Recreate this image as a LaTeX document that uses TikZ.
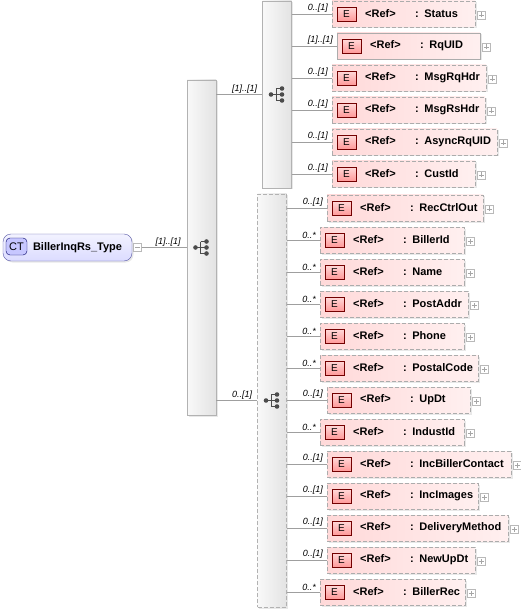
\documentclass[tikz,border=0pt]{standalone}
\usepackage{fontspec}
\setmainfont{Liberation Sans}
\usetikzlibrary{shadows}

\begin{document}
\begin{tikzpicture}[x=1pt, y=-1pt,
    boxshadow/.style={drop shadow={shadow xshift=1.5pt, shadow yshift=-1.5pt, opacity=.18}},
    seqbox/.style={draw=gray!60, left color=gray!5, right color=gray!22, minimum width=29pt, inner sep=0pt, boxshadow},
    elem/.style={draw=gray!65, left color=red!15, right color=red!6, inner xsep=0pt, inner ysep=0pt, minimum height=26pt,
        align=left, anchor=west, font=\fontsize{11}{13}\selectfont\bfseries, boxshadow},
    opt/.style={dash pattern=on 4pt off 2pt},
    req/.style={solid},
    ebadge/.style={draw=red!45!black, top color=red!15, bottom color=red!40, minimum width=19pt, minimum height=14pt,
        inner sep=0pt, font=\fontsize{10}{12}\selectfont},
    plusbox/.style={draw=gray!55, fill=white, minimum size=8pt, inner sep=0pt,
        path picture={\draw[gray!70] ([xshift=-2.5pt]path picture bounding box.center) -- ([xshift=2.5pt]path picture bounding box.center)
                                     ([yshift=-2.5pt]path picture bounding box.center) -- ([yshift=2.5pt]path picture bounding box.center);}},
    minusbox/.style={draw=gray!55, fill=white, minimum size=8pt, inner sep=0pt,
        path picture={\draw[gray!70] ([xshift=-2.5pt]path picture bounding box.center) -- ([xshift=2.5pt]path picture bounding box.center);}},
    mult/.style={font=\fontsize{9}{10}\selectfont\itshape, anchor=south east, inner sep=1pt},
    link/.style={draw=gray!75, line width=.6pt},
    seqicon/.pic={
        \draw[black!70, line width=1pt] (-6,0) -- (-1,0) (-1,-6) -- (-1,6) (-1,-6) -- (5,-6) (-1,0) -- (5,0) (-1,6) -- (5,6);
        \fill[black!70] (-6,0) circle (2.3pt);
        \foreach \k in {-6,0,6} \fill[black!70] (5,\k) circle (2.3pt);
    }]
    \useasboundingbox (0,0) rectangle (520,612);

    % complex type
    \node[draw=blue!30!gray, rounded corners=8pt, top color=blue!5, bottom color=blue!14, text width=129pt, inner xsep=0pt,
          minimum height=27pt, align=left, font=\fontsize{11}{13}\selectfont\bfseries, boxshadow] (root) at (67.5,247.5)
          {\hspace*{30pt}BillerInqRs\_Type};
    \node[draw=blue!40!black, fill=blue!22, rounded corners=4pt, minimum width=21pt, minimum height=17pt, inner sep=0pt,
          font=\fontsize{11}{13}\selectfont] (ct) at (16.5,246.5) {CT};
    \node[minusbox] (minus) at (137.5,247.5) {};

    % sequences
    \node[seqbox, minimum height=335pt] (seq) at (201.5,247.5) {};
    \node[seqbox, minimum height=187pt] (s1) at (277,94.5) {};
    \node[seqbox, opt, minimum height=413pt] (s2) at (272,400.5) {};
    \pic at (seq.center) {seqicon};
    \pic at (s1.center) {seqicon};
    \pic at (s2.center) {seqicon};

    \draw[link] (minus.east) -- (seq.west);
    \node[mult] at ([xshift=-5pt]seq.west) {[1]..[1]};
    \draw[link] (seq.east |- s1.west) -- (s1.west);
    \node[mult] at ([xshift=-4pt]s1.west) {[1]..[1]};
    \draw[link] (seq.east |- s2.west) -- (s2.west);
    \node[mult] at ([xshift=-4pt]s2.west) {0..[1]};

    % elements
    \foreach \n/\nm/\xl/\xr/\yy/\st/\p/\mu in {
        1/Status/332/475/14/opt/s1/{0..[1]},
        2/RqUID/337/480/46/req/s1/{[1]..[1]},
        3/MsgRqHdr/332/486/78/opt/s1/{0..[1]},
        4/MsgRsHdr/332/485/110/opt/s1/{0..[1]},
        5/AsyncRqUID/332/497/142/opt/s1/{0..[1]},
        6/CustId/332/475/174/opt/s1/{0..[1]},
        7/RecCtrlOut/327/483/208/opt/s2/{0..[1]},
        8/BillerId/320/464/240/opt/s2/{0..*},
        9/Name/320/464/272/opt/s2/{0..*},
        10/PostAddr/320/468/304/opt/s2/{0..*},
        11/Phone/320/464/336/opt/s2/{0..*},
        12/PostalCode/320/478/368/opt/s2/{0..*},
        13/UpDt/327/470/400/opt/s2/{0..[1]},
        14/IndustId/320/464/432/opt/s2/{0..*},
        15/IncBillerContact/327/511/464/opt/s2/{0..[1]},
        16/IncImages/327/478/496/opt/s2/{0..[1]},
        17/DeliveryMethod/327/508/528/opt/s2/{0..[1]},
        18/NewUpDt/327/475/560/opt/s2/{0..[1]},
        19/BillerRec/320/465/592/opt/s2/{0..*}} {
        \pgfmathsetmacro\w{\xr-\xl}
        \node[elem, \st, text width=\w pt] (e\n) at (\xl,\yy) {\hspace*{33pt}\makebox[50pt][l]{<Ref>}: \nm};
        \node[ebadge] (b\n) at ([xshift=14.5pt]e\n.west) {E};
        \node[plusbox] (p\n) at ([xshift=6pt, yshift=-1pt]e\n.east) {};
        \draw[link] (\p.east |- e\n.west) -- (e\n.west);
        \node[mult] at ([xshift=-3pt]e\n.west) {\mu};
    }
\end{tikzpicture}
\end{document}
